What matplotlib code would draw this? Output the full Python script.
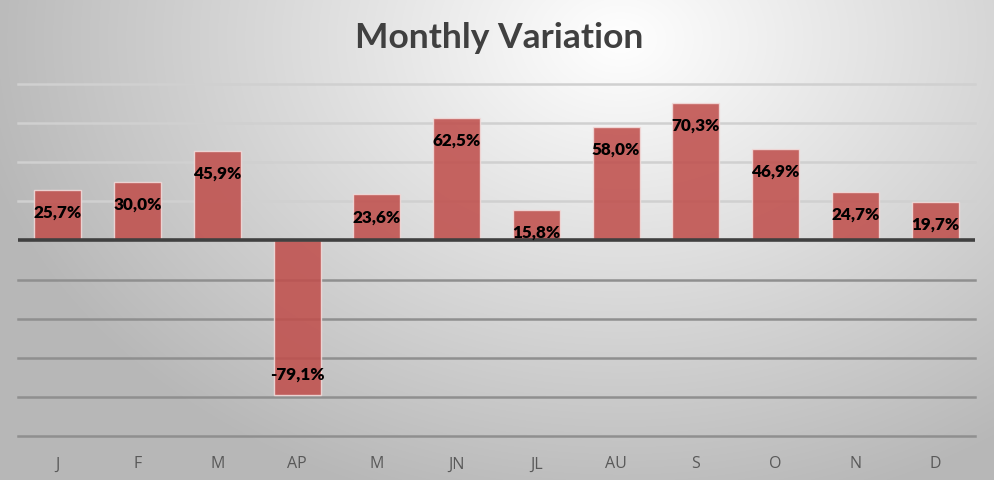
import numpy as np
import matplotlib
matplotlib.use('Agg')
import matplotlib.pyplot as plt

# Data
months = ['J', 'F', 'M', 'AP', 'M', 'JN', 'JL', 'AU', 'S', 'O', 'N', 'D']
variation = [25.7, 30.0, 45.9, -79.1, 23.6, 62.5, 15.8, 58.0, 70.3, 46.9, 24.7, 19.7]
grid_levels = [-100, -80, -60, -40, -20, 20, 40, 60, 80]

W, H = 995, 481
fig = plt.figure(figsize=(W / 100, H / 100), dpi=100)

# radial grey background, lightest near the upper middle
bg = fig.add_axes([0, 0, 1, 1], zorder=0)
yy, xx = np.mgrid[0:H, 0:W]
r = np.sqrt(((xx - 620) / 700.0) ** 2 + ((yy - 40) / 520.0) ** 2)
shade = np.clip(1.0 - 0.30 * r, 0.72, 1.0)
bg.imshow(np.dstack([shade] * 3), aspect='auto', extent=[0, 1, 0, 1], origin='upper')
bg.axis('off')

left, right = 18 / W, 975 / W
bottom, top = (H - 437) / H, (H - 85) / H
ax = fig.add_axes([left, bottom, right - left, top - bottom], zorder=1)
ax.patch.set_alpha(0)

x = np.arange(len(months))
ax.bar(x, variation, width=0.59, color='#c0504d', alpha=0.88,
       edgecolor='#f2dcdb', linewidth=1.0, zorder=3)

for lv in grid_levels:
    ax.axhline(lv, color='#d0d0d0' if lv > 0 else '#8f8f8f', lw=1.8, zorder=1, clip_on=False)
ax.axhline(0, color='#404040', lw=2.6, zorder=4)

# value labels inside the bar end
for xi, v in zip(x, variation):
    off = -11.2 if v > 0 else 11.2
    ax.text(xi, v + off, f'{v:.1f}%'.replace('.', ','), ha='center', va='center',
            fontsize=12.3, fontweight='heavy', family='Lato', color='black', zorder=5)

ax.set_xlim(-0.5, len(months) - 0.5)
ax.set_ylim(-100, 80)
ax.set_yticks([])
ax.set_xticks(x)
ax.set_xticklabels(months, family='Open Sans', fontsize=11.5, color='#595959')
ax.tick_params(axis='x', length=0, pad=14)
for s in ax.spines.values():
    s.set_visible(False)

fig.text(0.502, 1 - 38 / H, 'Monthly Variation', ha='center', va='center',
         fontsize=25.5, fontweight='bold', family='Lato', color='#404040')

fig.savefig('out.png', dpi=100)
